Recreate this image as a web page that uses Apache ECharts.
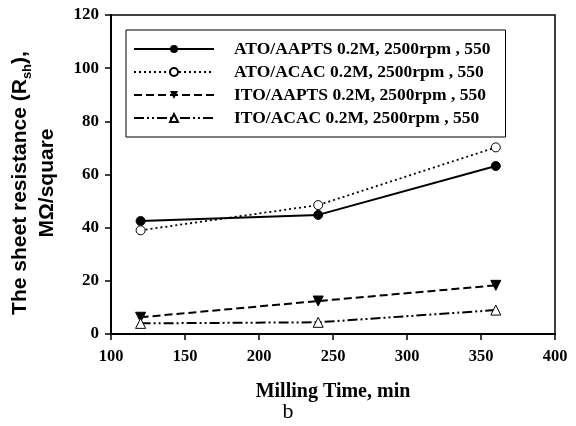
<!DOCTYPE html>
<html>
<head>
    <meta charset="utf-8">
    <title>ECharts</title>
    <script src="https://cdn.jsdelivr.net/npm/echarts@6/dist/echarts.min.js"></script>
</head>
<body style="margin:0;background:#fff;">
<div id="main" style="width: 576px;height:426px;"></div>
<script type="text/javascript">
    // milling time (min)
    var times = [120, 240, 360];
    var names = [
        'ATO/AAPTS 0.2M, 2500rpm , 550',
        'ATO/ACAC 0.2M, 2500rpm , 550',
        'ITO/AAPTS 0.2M, 2500rpm , 550',
        'ITO/ACAC 0.2M, 2500rpm , 550'
    ];
    var atoAapts = [42.5, 44.8, 63.2];
    var atoAcac = [39, 48.5, 70.2];
    var itoAapts = [6.3, 12.4, 18.3];
    var itoAcac = [4, 4.4, 9];

    function pairs(vals) {
        var out = [];
        for (var i = 0; i < times.length; i++) {
            out.push([times[i], vals[i]]);
        }
        return out;
    }

    var serif = 'Liberation Serif, Times New Roman, serif';
    var sans = 'Liberation Sans, Arial, sans-serif';

    var myChart = echarts.init(document.getElementById('main'));

    var option = {
        animation: false,
        backgroundColor: '#fff',
        grid: {
            left: 111, right: 21, top: 15, bottom: 92,
            outerBoundsMode: 'none',
            containLabel: false,
            show: true, borderColor: '#000', borderWidth: 1.5
        },
        legend: {
            orient: 'vertical',
            left: 126, top: 30,
            padding: [10, 15, 10, 7],
            itemGap: 5,
            itemWidth: 80,
            itemHeight: 10,
            borderColor: '#000',
            borderWidth: 1,
            textStyle: { fontFamily: serif, fontWeight: 'bold', fontSize: 17.5, color: '#000', padding: [0, 0, 0, 15] },
            data: names
        },
        xAxis: {
            type: 'value',
            min: 100, max: 400, interval: 50,
            name: 'Milling Time, min',
            nameLocation: 'middle',
            nameGap: 48,
            nameTextStyle: { fontFamily: serif, fontWeight: 'bold', fontSize: 20, color: '#000' },
            axisLine: { lineStyle: { color: '#000', width: 2 } },
            axisTick: { length: 6, lineStyle: { color: '#000', width: 1.5 } },
            axisLabel: { fontFamily: serif, fontWeight: 'bold', fontSize: 16.5, color: '#000', margin: 14 },
            splitLine: { show: false }
        },
        yAxis: {
            type: 'value',
            min: 0, max: 120, interval: 20,
            axisLine: { lineStyle: { color: '#000', width: 2 } },
            axisTick: { length: 6, lineStyle: { color: '#000', width: 1.5 } },
            axisLabel: { fontFamily: serif, fontWeight: 'bold', fontSize: 17, color: '#000', margin: 12 },
            splitLine: { show: false }
        },
        graphic: [{
            type: 'text',
            x: 34, y: 183,
            rotation: Math.PI / 2,
            style: {
                text: 'The sheet resistance (R{sub|sh}),\nMΩ/square',
                fontFamily: sans, fontWeight: 'bold', fontSize: 21, fill: '#000',
                lineHeight: 27, align: 'center', verticalAlign: 'middle',
                rich: {
                    sub: { fontFamily: sans, fontWeight: 'bold', fontSize: 13, fill: '#000', verticalAlign: 'bottom', padding: [8, 0, 0, 0] }
                }
            }
        }, {
            type: 'text',
            left: 'center',
            top: 401,
            style: { text: 'b', font: '22px ' + serif, fill: '#000' }
        }],
        series: [
            {
                name: names[0], type: 'line', data: pairs(atoAapts),
                symbol: 'circle', symbolSize: 9,
                itemStyle: { color: '#000', borderColor: '#000' },
                lineStyle: { color: '#000', width: 2, type: 'solid' }
            },
            {
                name: names[1], type: 'line', data: pairs(atoAcac),
                symbol: 'circle', symbolSize: 9,
                itemStyle: { color: '#fff', borderColor: '#000', borderWidth: 1 },
                lineStyle: { color: '#000', width: 1.8, type: [2, 3] }
            },
            {
                name: names[2], type: 'line', data: pairs(itoAapts),
                symbol: 'triangle', symbolSize: 10, symbolRotate: 180,
                itemStyle: { color: '#000', borderColor: '#000' },
                lineStyle: { color: '#000', width: 2, type: [8, 4] }
            },
            {
                name: names[3], type: 'line', data: pairs(itoAcac),
                symbol: 'triangle', symbolSize: 10,
                itemStyle: { color: '#fff', borderColor: '#000', borderWidth: 1 },
                lineStyle: { color: '#000', width: 2, type: [10, 3, 2, 3, 2, 3] }
            }
        ]
    };

    myChart.setOption(option);
</script>
</body>
</html>
